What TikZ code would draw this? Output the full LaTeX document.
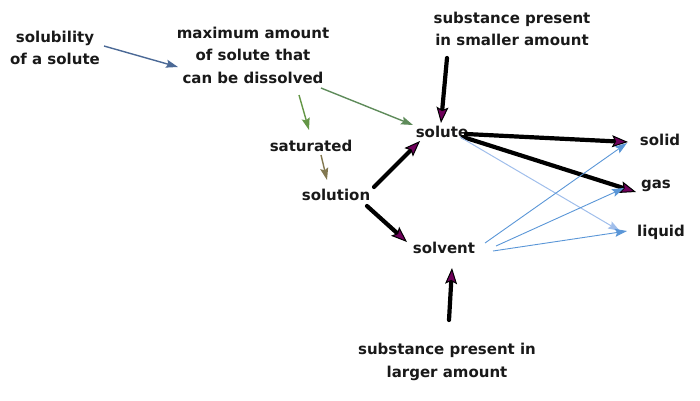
\documentclass[tikz,border=0pt]{standalone}
\usepackage{fontspec}
\setmainfont{DejaVu Sans}
\usetikzlibrary{arrows.meta,calc}
\definecolor{tipfill}{RGB}{110,0,90}
\definecolor{steel}{RGB}{75,105,150}
\definecolor{greenish}{RGB}{100,150,70}
\definecolor{olive}{RGB}{130,120,80}
\definecolor{lightblue}{RGB}{90,150,215}
\definecolor{paleblue}{RGB}{160,190,235}
\tikzset{
  lbl/.style={font=\fontsize{15}{22.5}\selectfont\bfseries, align=center, inner sep=2pt, text=black!90},
  thick arrow/.style={draw=black, line width=4.2pt, line cap=round,
    -{Stealth[length=16pt,width=12pt,inset=3pt,fill=tipfill,line width=1pt]}},
  thin arrow/.style={line width=1.4pt, -{Stealth[length=12pt,width=8pt,inset=2pt]}},
}
\begin{document}
\begin{tikzpicture}[x=1pt,y=-1pt]
\useasboundingbox (0,0) rectangle (700,400);
\node[lbl] (solub) at (55,48) {solubility\\of a solute};
\node[lbl] (maxam) at (253,55) {maximum amount\\of solute that\\can be dissolved};
\node[lbl] (smaller) at (512,29) {substance present\\in smaller amount};
\node[lbl] (solute) at (442,132) {solute};
\node[lbl] (sat) at (311,146) {saturated};
\node[lbl] (solution) at (336,195) {solution};
\node[lbl] (solvent) at (444,248) {solvent};
\node[lbl] (solid) at (660,140) {solid};
\node[lbl] (gas) at (656,186) {gas};
\node[lbl] (liquid) at (661,232) {liquid};
\node[lbl] (larger) at (447,362) {substance present in\\larger amount};

\draw[thin arrow, steel] ($(solub)+(49,-2)$) -- ($(maxam)+(-75,12)$);
\draw[thin arrow, greenish] ($(maxam)+(46,40)$) -- ($(sat)+(-2,-16)$);
\draw[thin arrow, greenish!75!steel] ($(maxam)+(68,33)$) -- ($(solute)+(-29,-7)$);
\draw[thin arrow, olive] ($(sat)+(10,9)$) -- ($(solution)+(-9,-15)$);
\draw[thick arrow] ($(smaller)+(-65,29)$) -- ($(solute)+(-1,-9)$);
\draw[thick arrow] ($(solution)+(38,-8)$) -- ($(solute)+(-22,9)$);
\draw[thick arrow] ($(solution)+(31,11)$) -- ($(solvent)+(-37,-6)$);
\draw[thick arrow] ($(solute)+(24,2)$) -- ($(solid)+(-32,2)$);
\draw[thick arrow] ($(solute)+(21,5)$) -- ($(gas)+(-20,6)$);
\draw[thin arrow, paleblue, line width=1pt] ($(solute)+(18,5)$) -- ($(liquid)+(-41,-1)$);
\draw[thin arrow, lightblue, line width=0.9pt] ($(solvent)+(41,-5)$) -- ($(solid)+(-33,3)$);
\draw[thin arrow, lightblue, line width=0.9pt] ($(solvent)+(52,-2)$) -- ($(gas)+(-32,2)$);
\draw[thin arrow, lightblue, line width=0.9pt] ($(solvent)+(49,3)$) -- ($(liquid)+(-34,-1)$);
\draw[thick arrow] ($(larger)+(2,-42)$) -- ($(solvent)+(8,20)$);
\end{tikzpicture}
\end{document}
